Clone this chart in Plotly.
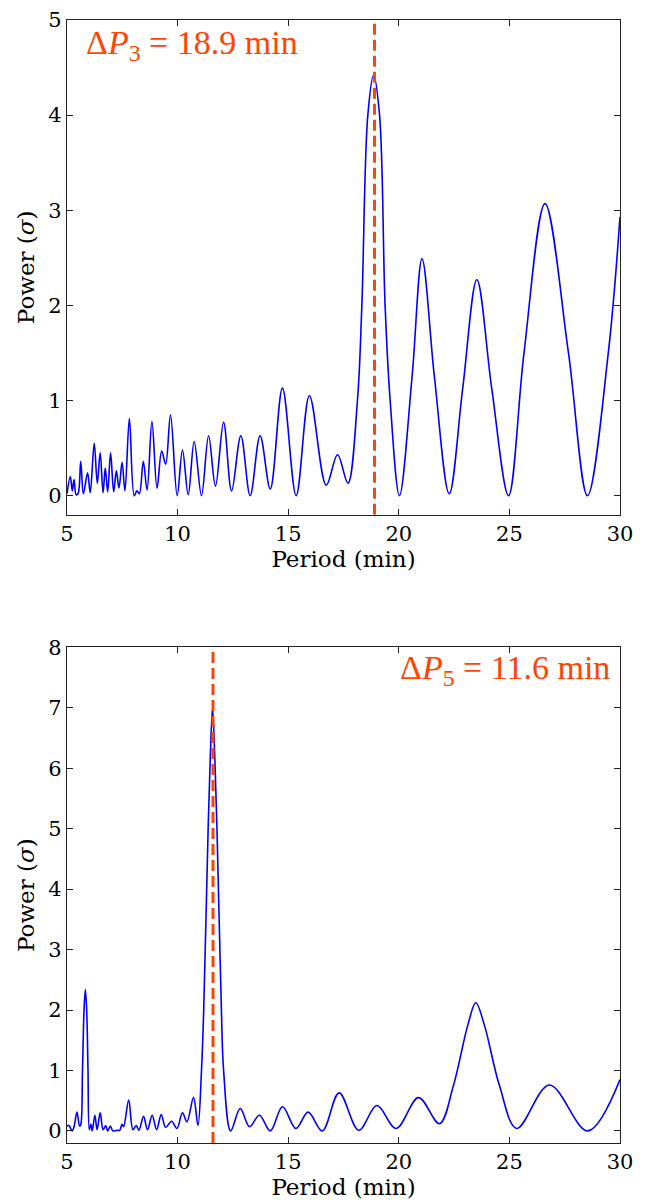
import plotly.graph_objects as go

# ---- data ----
period_top = [5.00, 5.15, 5.24, 5.32, 5.41, 5.50, 5.62, 5.74, 5.93, 6.05, 6.23, 6.37, 6.50, 6.63, 6.73,
              6.84, 6.97, 7.11, 7.23, 7.35, 7.49, 7.62, 7.82, 8.04, 8.16, 8.27, 8.45, 8.62, 8.84, 9.07,
              9.28, 9.46, 9.68, 9.98, 10.22, 10.48, 10.75, 11.08, 11.40, 11.71, 12.08, 12.44, 12.86,
              13.28, 13.73, 14.19, 14.74, 15.36, 15.96, 16.72, 17.23, 17.70, 18.13, 18.33, 18.60, 18.86,
              19.13, 19.38, 19.61, 20.03, 20.60, 21.05, 21.61, 22.28, 22.89, 23.53, 24.20, 24.96, 25.66,
              26.61, 27.67, 28.53, 29.47, 30.00]
power_top = [0.02, 0.20, 0.05, 0.17, 0.01, 0.02, 0.36, 0.02, 0.24, 0.03, 0.55, 0.13, 0.45, 0.03, 0.29,
             0.04, 0.45, 0.04, 0.26, 0.08, 0.35, 0.05, 0.81, 0.00, 0.05, 0.02, 0.36, 0.06, 0.78, 0.08,
             0.47, 0.33, 0.85, 0.00, 0.48, 0.01, 0.57, 0.00, 0.63, 0.10, 0.77, 0.05, 0.63,
             0.00, 0.63, 0.07, 1.13, 0.00, 1.05, 0.11, 0.43, 0.13, 1.00, 2.00, 4.00, 4.42,
             4.00, 2.00, 1.00, 0.00, 1.25, 2.49, 1.25, 0.02, 1.13, 2.27, 1.13, 0.00, 1.50,
             3.07, 1.50, 0.00, 1.50, 2.93]

period_bot = [5.00, 5.09, 5.23, 5.32, 5.45, 5.57, 5.62, 5.70, 5.77, 5.83, 5.89, 5.95, 6.01, 6.08, 6.14,
              6.26, 6.36, 6.50, 6.63, 6.75, 6.84, 6.96, 7.07, 7.25, 7.38, 7.49, 7.56, 7.79, 7.98, 8.13,
              8.25, 8.46, 8.64, 8.85, 9.05, 9.26, 9.46, 9.73, 9.97, 10.22, 10.42, 10.72, 10.92, 11.08,
              11.18, 11.38, 11.48, 11.58, 11.68, 11.78, 11.98, 12.08, 12.40, 12.83, 13.25, 13.70, 14.19,
              14.74, 15.35, 15.90, 16.54, 17.30, 18.19, 19.01, 19.88, 20.89, 21.84, 22.47, 23.12, 23.48,
              23.87, 24.55, 25.33, 26.81, 28.54, 30.00]
power_bot = [0.08, 0.09, 0.00, 0.07, 0.31, 0.08, 0.10, 1.00, 2.00, 2.34, 2.00, 1.00, 0.02, 0.11, 0.00,
             0.26, 0.02, 0.30, 0.02, 0.09, 0.00, 0.08, 0.00, 0.01, 0.01, 0.11, 0.07, 0.51, 0.02, 0.09,
             0.01, 0.24, 0.02, 0.26, 0.02, 0.27, 0.06, 0.16, 0.04, 0.30, 0.15, 0.55, 0.09, 1.00,
             2.00, 5.00, 6.20, 7.00, 6.20, 5.00, 2.00, 1.00, 0.00, 0.37, 0.07, 0.26, 0.00,
             0.40, 0.04, 0.31, 0.00, 0.63, 0.01, 0.42, 0.04, 0.55, 0.12, 0.75, 1.75, 2.12,
             1.75, 0.75, 0.04, 0.76, 0.00, 0.85]

delta_p = [18.9, 11.6]
labels = ["Δ<i>P</i><sub>3</sub> = 18.9 min", "Δ<i>P</i><sub>5</sub> = 11.6 min"]
x_ticks = [5, 10, 15, 20, 25, 30]
y_ticks_top = [0, 1, 2, 3, 4, 5]
y_ticks_bot = [0, 1, 2, 3, 4, 5, 6, 7, 8]

BLUE = "#0000FF"
ORANGE = "#FF4500"
FONT = "DejaVu Serif"

fig = go.Figure()
fig.add_trace(go.Scatter(x=period_top, y=power_top, mode="lines", line=dict(color=BLUE, width=1.6, shape="spline", smoothing=1.0),
                         xaxis="x", yaxis="y", showlegend=False, cliponaxis=True))
fig.add_trace(go.Scatter(x=period_bot, y=power_bot, mode="lines", line=dict(color=BLUE, width=1.6, shape="spline", smoothing=1.0),
                         xaxis="x2", yaxis="y2", showlegend=False, cliponaxis=True))

for i, (xr, yr) in enumerate([("x", "y"), ("x2", "y2")]):
    fig.add_shape(type="line", xref=xr, yref=yr + " domain", x0=delta_p[i], x1=delta_p[i], y0=0, y1=1,
                  line=dict(color=ORANGE, width=3, dash="11px,5px"), layer="above")

fig.add_annotation(xref="x domain", yref="y domain", x=0.03, y=0.95, xanchor="left", yanchor="middle",
                   text=labels[0], showarrow=False, font=dict(family="Liberation Serif", size=34, color=ORANGE))
fig.add_annotation(xref="x2 domain", yref="y2 domain", x=0.985, y=0.955, xanchor="right", yanchor="middle",
                   text=labels[1], showarrow=False, font=dict(family="Liberation Serif", size=34, color=ORANGE))

axis_common = dict(showline=True, linecolor="#222222", linewidth=1.2, mirror="ticks", ticks="inside",
                   ticklen=6, tickwidth=1, tickcolor="#222222", showgrid=False, zeroline=False,
                   automargin=False, ticklabeloverflow="allow",
                   tickfont=dict(family=FONT, size=21, color="black"))
title_font = dict(family=FONT, size=23, color="black")

fig.update_layout(
    width=639, height=1192,
    margin=dict(l=59, r=27, t=12, b=57),
    plot_bgcolor="white", paper_bgcolor="white",
    xaxis=dict(domain=[0, 1], range=[5, 30], tickvals=x_ticks, anchor="y",
               title=dict(text="Period (min)", font=title_font, standoff=5), **axis_common),
    yaxis=dict(domain=[0.5595, 1.0], range=[-0.2, 5], tickvals=y_ticks_top, anchor="x",
               title=dict(text="Power (<i>σ</i>)", font=title_font, standoff=7), **axis_common),
    xaxis2=dict(domain=[0, 1], range=[5, 30], tickvals=x_ticks, anchor="y2",
                title=dict(text="Period (min)", font=title_font, standoff=5), **axis_common),
    yaxis2=dict(domain=[0.0, 0.4414], range=[-0.2, 8], tickvals=y_ticks_bot, anchor="x2",
                title=dict(text="Power (<i>σ</i>)", font=title_font, standoff=7), **axis_common),
)

fig.write_html("out.html")
